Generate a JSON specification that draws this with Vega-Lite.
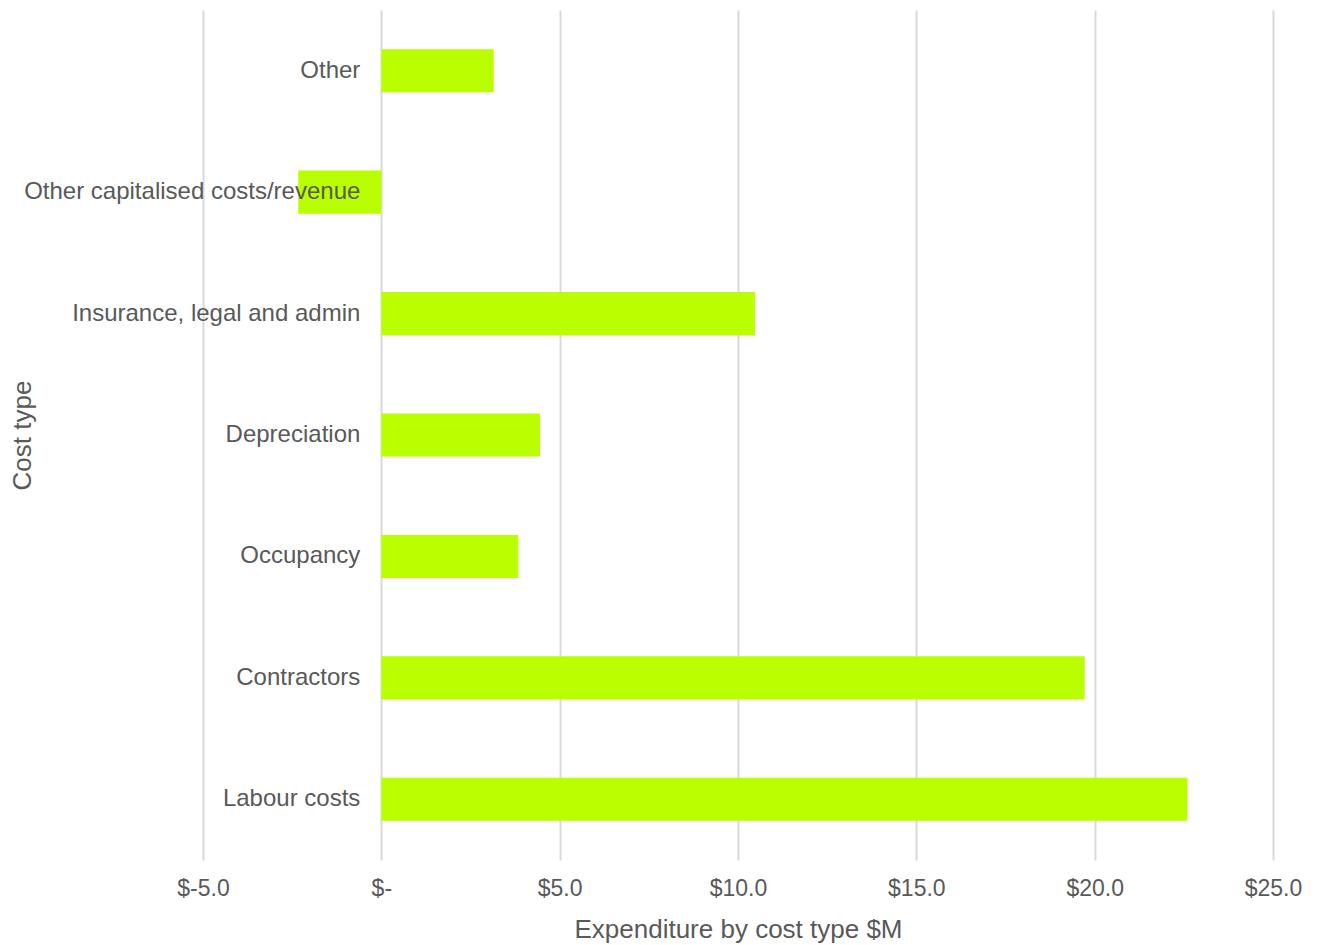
{
  "$schema": "https://vega.github.io/schema/vega-lite/v6.json",
  "width": 1070,
  "height": 850,
  "autosize": {"type": "none"},
  "padding": {"left": 203, "top": 10, "right": 51, "bottom": 85},
  "background": "white",
  "data": {"values": [
    {"Cost type": "Other", "Value": 3.15},
    {"Cost type": "Other capitalised costs/revenue", "Value": -2.33},
    {"Cost type": "Insurance, legal and admin", "Value": 10.48},
    {"Cost type": "Depreciation", "Value": 4.45},
    {"Cost type": "Occupancy", "Value": 3.84},
    {"Cost type": "Contractors", "Value": 19.72},
    {"Cost type": "Labour costs", "Value": 22.6}
  ]},
  "config": {
    "font": "Liberation Sans",
    "view": {"stroke": null}
  },
  "encoding": {
    "y": {
      "field": "Cost type", "type": "nominal", "sort": null,
      "scale": {"paddingInner": 0.645, "paddingOuter": 0.3225},
      "axis": {"labels": false, "ticks": false, "domain": false, "grid": false,
               "title": "Cost type", "titleFontSize": 26, "titleFontWeight": "normal",
               "titleColor": "#595959", "titlePadding": 168}
    }
  },
  "layer": [
    {
      "mark": {"type": "bar", "color": "#b9ff00"},
      "encoding": {
        "x": {
          "field": "Value", "type": "quantitative",
          "scale": {"domain": [-5, 25], "nice": false, "zero": false},
          "axis": {"values": [-5, 0, 5, 10, 15, 20, 25],
                   "labelExpr": "datum.value == 0 ? '$-' : '$' + (datum.value < 0 ? '-' : '') + format(abs(datum.value), '.1f')",
                   "labelFontSize": 23, "labelColor": "#595959", "labelPadding": 17,
                   "labelFlush": false,
                   "ticks": false, "domain": false,
                   "gridColor": "#d9d9d9", "gridWidth": 2,
                   "title": "Expenditure by cost type $M", "titleFontSize": 26,
                   "titleFontWeight": "normal", "titleColor": "#595959", "titlePadding": 16}
        }
      }
    },
    {
      "mark": {"type": "text", "align": "right", "baseline": "middle", "dx": -21,
               "fontSize": 24, "color": "#595959"},
      "encoding": {
        "x": {"datum": 0, "type": "quantitative"},
        "text": {"field": "Cost type"}
      }
    }
  ]
}
